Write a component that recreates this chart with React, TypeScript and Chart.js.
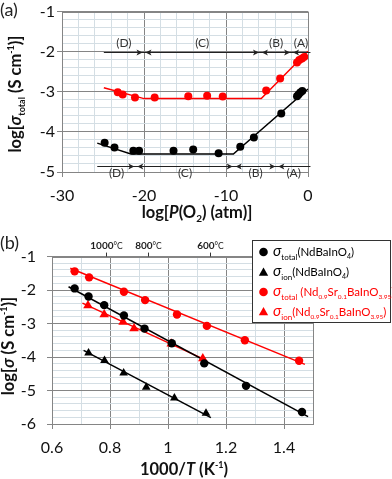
import React, { useEffect, useRef } from "react";
import { Chart, registerables } from "chart.js";

Chart.register(...registerables);

const FONT = "Lato, 'Noto Sans', 'DejaVu Sans', sans-serif";
const RED = "#ff0000";
const BLACK = "#000000";
const MAJOR_GRID = "#858585";
const MINOR_GRID = "#d4dee4";
const TEXT = "#111111";
const ARROW = "#222222";

// ---------------- Panel (a): log sigma_total vs log P(O2) ----------------
const aXTickLabels = ["-30", "-20", "-10", "0"];
const aYTickLabels = ["-5", "-4", "-3", "-2", "-1"];

const aSrLogPO2 = [-23.2, -22.6, -21.1, -18.7, -14.6, -12.3, -10.4, -5.1, -3.4, -1.34, -1.06, -0.73, -0.45];
const aSrLogSigma = [-3.01, -3.07, -3.14, -3.14, -3.11, -3.1, -3.12, -2.97, -2.67, -2.27, -2.21, -2.17, -2.13];
const aNdLogPO2 = [-24.8, -23.6, -21.3, -20.6, -16.4, -14.0, -10.9, -8.26, -6.6, -3.26, -1.34, -1.15, -0.94, -0.7];
const aNdLogSigma = [-4.27, -4.39, -4.47, -4.47, -4.47, -4.44, -4.53, -4.37, -4.14, -3.54, -3.11, -3.07, -3.02, -2.98];

const aSrFitLogPO2 = [-24.9, -20, -5.7, 0];
const aSrFitLogSigma = [-2.9, -3.17, -3.17, -1.99];
const aNdFitLogPO2 = [-25.7, -21.6, -9.1, 0];
const aNdFitLogSigma = [-4.28, -4.55, -4.55, -2.93];

const aRegionLabels = ["(D)", "(C)", "(B)", "(A)"];
const aTopArrowLogSigma = -2;
const aTopArrowEdges = [-24.9, -20, -5.8, -2, 0.3];
const aBottomArrowLogSigma = -4.86;
const aBottomArrowEdges = [-25.7, -21, -9, -3.8, 0.3];

// ---------------- Panel (b): Arrhenius plot ----------------
const bXTickLabels = ["0.6", "0.8", "1", "1.2", "1.4"];
const bYTickLabels = ["-6", "-5", "-4", "-3", "-2", "-1"];
const bTopTempsC = [1000, 800, 600];

const bNdTotalX = [0.678, 0.726, 0.78, 0.848, 0.919, 1.013, 1.125, 1.269, 1.462];
const bNdTotalY = [-1.95, -2.19, -2.45, -2.76, -3.15, -3.59, -4.19, -4.86, -5.64];
const bNdIonX = [0.726, 0.781, 0.847, 0.925, 1.022, 1.131];
const bNdIonY = [-3.88, -4.1, -4.48, -4.9, -5.22, -5.68];
const bSrTotalX = [0.678, 0.728, 0.848, 0.921, 1.031, 1.134, 1.265, 1.452];
const bSrTotalY = [-1.44, -1.62, -2.05, -2.3, -2.73, -3.07, -3.5, -4.11];
const bSrIonX = [0.724, 0.78, 0.845, 0.883, 1.011, 1.12];
const bSrIonY = [-2.46, -2.73, -2.95, -3.15, -3.6, -4.04];

const bNdTotalFitX = [0.657, 1.483];
const bNdTotalFitY = [-1.9, -5.78];
const bNdIonFitX = [0.709, 1.148];
const bNdIonFitY = [-3.8, -5.81];
const bSrTotalFitX = [0.663, 1.472];
const bSrTotalFitY = [-1.35, -4.22];
const bSrIonFitX = [0.705, 1.125];
const bSrIonFitY = [-2.39, -4.07];

// ---------------- helpers ----------------
type Part = { t: string; size: number; bold?: boolean; italic?: boolean; dy?: number; color?: string };

function fontOf(p: Part) {
  return `${p.italic ? "italic " : ""}${p.bold ? "bold " : ""}${p.size}px ${FONT}`;
}

function drawRich(ctx: CanvasRenderingContext2D, parts: Part[], x: number, y: number, align: "left" | "center" | "right", color: string) {
  const widths = parts.map((p) => {
    ctx.font = fontOf(p);
    return ctx.measureText(p.t).width;
  });
  const total = widths.reduce((a, b) => a + b, 0);
  let cx = align === "center" ? x - total / 2 : align === "right" ? x - total : x;
  ctx.textAlign = "left";
  ctx.textBaseline = "alphabetic";
  parts.forEach((p, i) => {
    ctx.font = fontOf(p);
    ctx.fillStyle = p.color || color;
    ctx.fillText(p.t, cx, y + (p.dy || 0));
    cx += widths[i];
  });
}

const fmt = (v: number) => String(Number(v.toFixed(2)));

function pointsDS(xs: number[], ys: number[], color: string, style: string, r: number) {
  return {
    data: xs.map((x, i) => ({ x, y: ys[i] })),
    showLine: false,
    pointStyle: style,
    pointRadius: r,
    pointBackgroundColor: color,
    pointBorderColor: color,
    pointBorderWidth: 0,
  };
}

function lineDS(xs: number[], ys: number[], color: string) {
  return {
    data: xs.map((x, i) => ({ x, y: ys[i] })),
    showLine: true,
    borderColor: color,
    borderWidth: 1.5,
    pointRadius: 0,
    fill: false,
    tension: 0,
  };
}

function drawBorder(chart: any) {
  const { ctx, chartArea: ca } = chart;
  ctx.save();
  ctx.strokeStyle = MAJOR_GRID;
  ctx.lineWidth = 1;
  const l = Math.round(ca.left) + 0.5;
  const t = Math.round(ca.top) + 0.5;
  const r = Math.round(ca.right) + 0.5;
  const b = Math.round(ca.bottom) + 0.5;
  ctx.strokeRect(l, t, r - l, b - t);
  ctx.restore();
}

function arrowHead(ctx: CanvasRenderingContext2D, tipX: number, y: number, dir: number) {
  ctx.beginPath();
  ctx.moveTo(tipX, y);
  ctx.lineTo(tipX + dir * 6, y - 3);
  ctx.lineTo(tipX + dir * 4.5, y);
  ctx.lineTo(tipX + dir * 6, y + 3);
  ctx.closePath();
  ctx.fill();
}

function drawArrowRow(chart: any, yVal: number, edges: number[], labels: string[], above: boolean) {
  const { ctx, scales } = chart;
  const xs = scales.x;
  const y = Math.round(scales.y.getPixelForValue(yVal)) + 0.5;
  const px = edges.map((e) => xs.getPixelForValue(e));
  ctx.save();
  ctx.strokeStyle = ARROW;
  ctx.fillStyle = ARROW;
  ctx.lineWidth = 1;
  ctx.beginPath();
  ctx.moveTo(px[0], y);
  ctx.lineTo(px[px.length - 1], y);
  ctx.stroke();
  for (let i = 1; i < px.length - 1; i++) {
    arrowHead(ctx, px[i] - 1.5, y, -1);
    arrowHead(ctx, px[i] + 1.5, y, 1);
  }
  labels.forEach((t, i) => {
    const cx = (px[i] + px[i + 1]) / 2;
    drawRich(ctx, [{ t, size: 12 }], cx, above ? y - 5.5 : y + 10, "center", "#333333");
  });
  ctx.restore();
}

function drawTriangle(ctx: CanvasRenderingContext2D, x: number, y: number, r: number) {
  ctx.beginPath();
  for (let k = 0; k < 3; k++) {
    const a = (k * 2 * Math.PI) / 3;
    const vx = x + Math.sin(a) * r;
    const vy = y - Math.cos(a) * r;
    if (k === 0) ctx.moveTo(vx, vy);
    else ctx.lineTo(vx, vy);
  }
  ctx.closePath();
  ctx.fill();
}

// ---------------- plugins ----------------
const panelAPlugin = {
  id: "panelA",
  beforeDatasetsDraw(chart: any) {
    drawBorder(chart);
  },
  afterDatasetsDraw(chart: any) {
    drawArrowRow(chart, aTopArrowLogSigma, aTopArrowEdges, aRegionLabels, true);
    drawArrowRow(chart, aBottomArrowLogSigma, aBottomArrowEdges, aRegionLabels, false);
  },
  afterDraw(chart: any) {
    const { ctx } = chart;
    ctx.save();
    drawRich(ctx, [{ t: "(a)", size: 18 }], 0, 16, "left", "#222222");
    drawRich(
      ctx,
      [
        { t: "log[", size: 16.5, bold: true },
        { t: "P", size: 16.5, bold: true, italic: true },
        { t: "(O", size: 16.5, bold: true },
        { t: "2", size: 10, bold: true, dy: 4 },
        { t: ") (atm)]", size: 16.5, bold: true },
      ],
      197,
      218,
      "center",
      TEXT
    );
    ctx.translate(21, 94);
    ctx.rotate(-Math.PI / 2);
    drawRich(
      ctx,
      [
        { t: "log[", size: 16.5, bold: true },
        { t: "σ", size: 16.5, bold: true, italic: true },
        { t: "total", size: 9, bold: true, dy: 4 },
        { t: " (S cm", size: 16.5, bold: true },
        { t: "-1", size: 9, bold: true, dy: -7 },
        { t: ")]", size: 16.5, bold: true },
      ],
      0,
      0,
      "center",
      TEXT
    );
    ctx.restore();
  },
};

const legendRows: { marker: string; color: string; parts: Part[] }[] = [
  {
    marker: "circle",
    color: BLACK,
    parts: [
      { t: "σ", size: 15, italic: true },
      { t: "total", size: 8, dy: 4 },
      { t: "(NdBaInO", size: 11.5 },
      { t: "4", size: 7, dy: 3 },
      { t: ")", size: 11.5 },
    ],
  },
  {
    marker: "triangle",
    color: BLACK,
    parts: [
      { t: "σ", size: 15, italic: true },
      { t: "ion", size: 8, dy: 4 },
      { t: "(NdBaInO", size: 11.5 },
      { t: "4", size: 7, dy: 3 },
      { t: ")", size: 11.5 },
    ],
  },
  {
    marker: "circle",
    color: RED,
    parts: [
      { t: "σ", size: 15, italic: true },
      { t: "total", size: 8, dy: 4 },
      { t: " (Nd", size: 11.5 },
      { t: "0.9", size: 6.5, dy: 3 },
      { t: "Sr", size: 11.5 },
      { t: "0.1", size: 6.5, dy: 3 },
      { t: "BaInO", size: 11.5 },
      { t: "3.95", size: 6.5, dy: 3 },
      { t: ")", size: 11.5 },
    ],
  },
  {
    marker: "triangle",
    color: RED,
    parts: [
      { t: "σ", size: 15, italic: true },
      { t: "ion", size: 8, dy: 4 },
      { t: "(Nd", size: 11.5 },
      { t: "0.9", size: 6.5, dy: 3 },
      { t: "Sr", size: 11.5 },
      { t: "0.1", size: 6.5, dy: 3 },
      { t: "BaInO", size: 11.5 },
      { t: "3.95", size: 6.5, dy: 3 },
      { t: ")", size: 11.5 },
    ],
  },
];

const panelBPlugin = {
  id: "panelB",
  beforeDatasetsDraw(chart: any) {
    drawBorder(chart);
  },
  afterDraw(chart: any) {
    const { ctx, chartArea: ca, scales } = chart;
    ctx.save();
    ctx.strokeStyle = "#333333";
    ctx.lineWidth = 1;
    bTopTempsC.forEach((tc) => {
      const x = Math.round(scales.x.getPixelForValue(1000 / (tc + 273))) + 0.5;
      ctx.beginPath();
      ctx.moveTo(x, ca.top - 4);
      ctx.lineTo(x, ca.top);
      ctx.stroke();
      drawRich(
        ctx,
        [
          { t: String(tc), size: 10, bold: true },
          { t: "°C", size: 8.5 },
        ],
        x,
        ca.top - 8,
        "center",
        "#222222"
      );
    });
    drawRich(ctx, [{ t: "(b)", size: 18 }], 0, 13, "left", "#222222");
    drawRich(
      ctx,
      [
        { t: "1000/", size: 16.5, bold: true },
        { t: "T", size: 16.5, bold: true, italic: true },
        { t: " (K", size: 16.5, bold: true },
        { t: "-1", size: 9, bold: true, dy: -7 },
        { t: ")", size: 16.5, bold: true },
      ],
      184,
      239,
      "center",
      TEXT
    );
    ctx.fillStyle = "#ffffff";
    ctx.fillRect(252.5, 4.5, 138, 82);
    ctx.strokeStyle = "#333333";
    ctx.strokeRect(252.5, 4.5, 138, 82);
    const rowY = [16, 36, 56, 75.5];
    legendRows.forEach((row, i) => {
      ctx.fillStyle = row.color;
      if (row.marker === "circle") {
        ctx.beginPath();
        ctx.arc(263.5, rowY[i], 4.3, 0, Math.PI * 2);
        ctx.fill();
      } else {
        drawTriangle(ctx, 263.5, rowY[i] + 1, 5.4);
      }
      drawRich(ctx, row.parts, 273, rowY[i] + 4, "left", row.color);
    });
    ctx.translate(14, 110);
    ctx.rotate(-Math.PI / 2);
    drawRich(
      ctx,
      [
        { t: "log[", size: 16.5, bold: true },
        { t: "σ", size: 16.5, bold: true, italic: true },
        { t: " (S cm", size: 16.5, bold: true },
        { t: "-1", size: 9, bold: true, dy: -7 },
        { t: ")]", size: 16.5, bold: true },
      ],
      0,
      0,
      "center",
      TEXT
    );
    ctx.restore();
  },
};

// ---------------- configs ----------------
function axisCommon(labels: string[], step: number, padding: number, size: (s: any) => void, horizontal: boolean): any {
  return {
    type: "linear",
    ticks: {
      stepSize: step,
      autoSkip: false,
      maxRotation: 0,
      padding,
      color: TEXT,
      font: { family: FONT, size: 16 },
      callback: (v: number) => (labels.includes(fmt(v)) ? fmt(v) : ""),
    },
    grid: {
      color: (c: any) => (c.tick && labels.includes(fmt(c.tick.value)) ? MAJOR_GRID : MINOR_GRID),
      tickColor: (c: any) => (c.tick && labels.includes(fmt(c.tick.value)) ? MAJOR_GRID : "rgba(0,0,0,0)"),
      tickLength: 5,
      lineWidth: 1,
    },
    border: { display: false },
    afterFit: size,
  };
}

function makeConfigA(): any {
  return {
    type: "scatter",
    data: {
      datasets: [
        pointsDS(aSrLogPO2, aSrLogSigma, RED, "circle", 4),
        pointsDS(aNdLogPO2, aNdLogSigma, BLACK, "circle", 4),
        lineDS(aSrFitLogPO2, aSrFitLogSigma, RED),
        lineDS(aNdFitLogPO2, aNdFitLogSigma, BLACK),
      ],
    },
    options: {
      responsive: false,
      animation: false,
      devicePixelRatio: 1,
      events: [],
      layout: { padding: { top: 10, right: 84, left: 0, bottom: 0 } },
      plugins: { legend: { display: false }, tooltip: { enabled: false } },
      scales: {
        x: { ...axisCommon(aXTickLabels, 2, 9, (s: any) => { s.height = 64; }, true), min: -30, max: 0 },
        y: { ...axisCommon(aYTickLabels, 0.2, 2, (s: any) => { s.width = 62; }, false), min: -5, max: -1 },
      },
    },
    plugins: [panelAPlugin],
  };
}

function makeConfigB(): any {
  return {
    type: "scatter",
    data: {
      datasets: [
        pointsDS(bNdTotalX, bNdTotalY, BLACK, "circle", 4.2),
        pointsDS(bNdIonX, bNdIonY, BLACK, "triangle", 5),
        pointsDS(bSrTotalX, bSrTotalY, RED, "circle", 4.2),
        pointsDS(bSrIonX, bSrIonY, RED, "triangle", 5.5),
        lineDS(bNdTotalFitX, bNdTotalFitY, BLACK),
        lineDS(bNdIonFitX, bNdIonFitY, BLACK),
        lineDS(bSrTotalFitX, bSrTotalFitY, RED),
        lineDS(bSrIonFitX, bSrIonFitY, RED),
      ],
    },
    options: {
      responsive: false,
      animation: false,
      devicePixelRatio: 1,
      events: [],
      layout: { padding: { top: 17, right: 79, left: 0, bottom: 0 } },
      plugins: { legend: { display: false }, tooltip: { enabled: false } },
      scales: {
        x: { ...axisCommon(bXTickLabels, 0.1, 9, (s: any) => { s.height = 55; }, true), min: 0.6, max: 1.5 },
        y: { ...axisCommon(bYTickLabels, 0.2, 11, (s: any) => { s.width = 52; }, false), min: -6, max: -1 },
      },
    },
    plugins: [panelBPlugin],
  };
}

export default function App() {
  const refA = useRef<HTMLCanvasElement>(null);
  const refB = useRef<HTMLCanvasElement>(null);
  useEffect(() => {
    const ca = new Chart(refA.current as HTMLCanvasElement, makeConfigA());
    const cb = new Chart(refB.current as HTMLCanvasElement, makeConfigB());
    return () => {
      ca.destroy();
      cb.destroy();
    };
  }, []);
  return (
    <div style={{ position: "absolute", left: 0, top: 0, width: 392, height: 479, background: "#ffffff" }}>
      <canvas ref={refA} width={392} height={236} style={{ position: "absolute", left: 0, top: 0, width: 392, height: 236 }} />
      <canvas ref={refB} width={392} height={243} style={{ position: "absolute", left: 0, top: 236, width: 392, height: 243 }} />
    </div>
  );
}
